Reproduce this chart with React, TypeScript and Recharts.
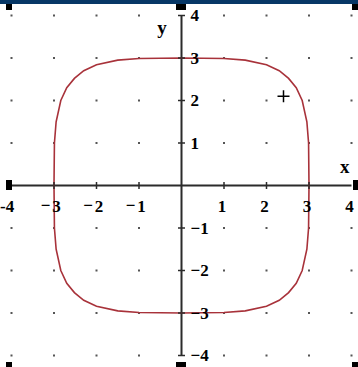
import { ReferenceLine, Scatter, ScatterChart, XAxis, YAxis } from 'recharts'

// closed curve, read clockwise from the top
const curveX = [
  0, 1, 1.5, 2, 2.3, 2.52, 2.7, 2.84, 2.95, 2.99, 3,
  2.99, 2.95, 2.84, 2.7, 2.52, 2.3, 2, 1.5, 1, 0,
  -1, -1.5, -2, -2.3, -2.52, -2.7, -2.84, -2.95, -2.99, -3,
  -2.99, -2.95, -2.84, -2.7, -2.52, -2.3, -2, -1.5, -1, 0,
]
const curveY = [
  3, 2.99, 2.95, 2.84, 2.7, 2.52, 2.3, 2, 1.5, 1, 0,
  -1, -1.5, -2, -2.3, -2.52, -2.7, -2.84, -2.95, -2.99, -3,
  -2.99, -2.95, -2.84, -2.7, -2.52, -2.3, -2, -1.5, -1, 0,
  1, 1.5, 2, 2.3, 2.52, 2.7, 2.84, 2.95, 2.99, 3,
]

const xTicks = [-4, -3, -2, -1, 1, 2, 3, 4]
const yTicks = [-4, -3, -2, -1, 1, 2, 3, 4]
const gridValues = [-4, -3, -2, -1, 0, 1, 2, 3, 4]

const cursorPoint = [{ x: 2.4, y: 2.1 }]
const axisNames = [
  { x: 3.84, y: 0.44, name: 'x' },
  { x: -0.46, y: 3.71, name: 'y' },
]

const curveData = curveX.map((x, i) => ({ x, y: curveY[i] }))
const gridDots = gridValues.flatMap((x) => gridValues.filter((y) => x !== 0 && y !== 0).map((y) => ({ x, y })))
const xTickData = xTicks.map((v) => ({ x: v, y: 0, label: v }))
const yTickData = yTicks.map((v) => ({ x: 0, y: v, label: v }))

const AXIS = '#2b2b2b'
const CURVE = '#a8323a'
const FONT = '"Liberation Serif", "DejaVu Serif", serif'

const box = (left: number, top: number, w: number, h: number) => (
  <div style={{ position: 'absolute', left, top, width: w, height: h, background: '#000' }} />
)

function XTick(p: any) {
  const v = p.payload.label
  const neg = v < 0
  const tick = Math.abs(v) !== 4 && (
    <line x1={p.cx} x2={p.cx} y1={p.cy - 3.5} y2={p.cy + 3.5} stroke={AXIS} strokeWidth={1.5} />
  )
  // leftmost label sits against the edge, as in the original
  if (v === -4) {
    return (
      <text x={0} y={p.cy + 21} textAnchor="start" dominantBaseline="central" fontSize={17} fill="#000">
        -4
      </text>
    )
  }
  return (
    <g>
      {tick}
      <text x={neg ? p.cx + 2.5 : p.cx - 2} y={p.cy + 21} textAnchor="middle" dominantBaseline="central" fontSize={17} fill="#000">
        {Math.abs(v)}
      </text>
      {neg && (
        <text x={p.cx - 3.5} y={p.cy + 20} textAnchor="end" dominantBaseline="central" fontSize={17} fill="#000">
          −
        </text>
      )}
    </g>
  )
}

function App() {
  return (
    <div style={{ position: 'absolute', left: 0, top: 0, width: 358, height: 367, background: '#fff', overflow: 'hidden' }}>
      <ScatterChart
        width={358}
        height={367}
        margin={{ top: 15.5, right: 6.5, bottom: 11.5, left: 11.5 }}
        style={{ fontFamily: FONT, fontWeight: 'bold' }}
      >
        <XAxis type="number" dataKey="x" domain={[-4, 4]} hide />
        <YAxis type="number" dataKey="y" domain={[-4, 4]} hide />
        <Scatter
          data={gridDots}
          isAnimationActive={false}
          shape={(p: any) => <rect x={p.cx - 1} y={p.cy - 1} width={2} height={2} fill="#555" />}
        />
        <ReferenceLine x={0} stroke={AXIS} strokeWidth={2} />
        <ReferenceLine y={0} stroke={AXIS} strokeWidth={2} />
        <Scatter
          data={curveData}
          isAnimationActive={false}
          line={{ stroke: CURVE, strokeWidth: 1.6 }}
          lineType="joint"
          shape={() => <g />}
        />
        <Scatter data={xTickData} isAnimationActive={false} shape={XTick} />
        <Scatter
          data={yTickData}
          isAnimationActive={false}
          shape={(p: any) => {
            const v = p.payload.label
            return (
              <g>
                <line x1={p.cx - 3.5} x2={p.cx + 3.5} y1={p.cy} y2={p.cy} stroke={AXIS} strokeWidth={1.5} />
                <text x={p.cx + 9} y={p.cy} textAnchor="start" dominantBaseline="central" fontSize={17} fill="#000">
                  {v < 0 ? `−${-v}` : v}
                </text>
              </g>
            )
          }}
        />
        <Scatter
          data={cursorPoint}
          isAnimationActive={false}
          shape={(p: any) => (
            <g stroke="#000" strokeWidth={1.5}>
              <line x1={p.cx - 6} x2={p.cx + 6} y1={p.cy} y2={p.cy} />
              <line x1={p.cx} x2={p.cx} y1={p.cy - 6} y2={p.cy + 6} />
            </g>
          )}
        />
        <Scatter
          data={axisNames}
          isAnimationActive={false}
          shape={(p: any) => (
            <text x={p.cx} y={p.cy} textAnchor="middle" dominantBaseline="central" fontSize={19} fill="#000">
              {p.payload.name}
            </text>
          )}
        />
      </ScatterChart>
      <div style={{ position: 'absolute', left: 0, top: 0, width: 358, height: 4, background: '#073766' }} />
      {box(6, 4, 6, 6)}
      {box(352, 4, 6, 6)}
      {box(176, 4, 10, 6)}
      {box(6, 362, 6, 5)}
      {box(176, 362, 10, 5)}
      {box(352, 362, 6, 5)}
      {box(6, 180, 6, 10)}
      {box(353, 180, 5, 10)}
    </div>
  )
}

export default App
